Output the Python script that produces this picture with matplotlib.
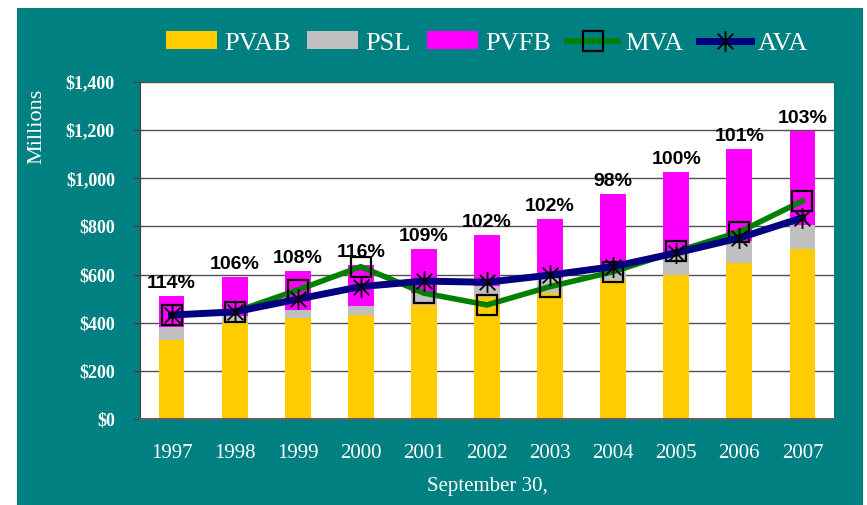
import matplotlib.pyplot as plt
import matplotlib.patches as mpatches
from matplotlib.path import Path
import numpy as np

years = ['1997', '1998', '1999', '2000', '2001', '2002', '2003', '2004', '2005', '2006', '2007']
pvab = [328, 399, 421, 432, 474, 506, 525, 577, 598, 650, 706]
psl = [55, 29, 32, 38, 51, 48, 59, 50, 92, 91, 100]
pvfb = [128, 162, 162, 170, 181, 210, 247, 308, 337, 379, 389]
mva = [432, 445, 536, 633, 523, 474, 550, 612, 696, 777, 906]
ava = [432, 445, 498, 550, 573, 568, 598, 633, 690, 752, 836]
ratios = ['114%', '106%', '108%', '116%', '109%', '102%', '102%', '98%', '100%', '101%', '103%']

teal = '#008080'
serif = 'Liberation Serif'

# Excel-style star marker: vertical bar plus an X
d = 0.75
star = Path([(0, -1), (0, 1), (-d, -d), (d, d), (-d, d), (d, -d)],
            [Path.MOVETO, Path.LINETO] * 3)

fig = plt.figure(figsize=(8.67, 5.05), dpi=100)
fig.patch.set_facecolor('white')
# teal panel behind everything
fig.patches.append(mpatches.Rectangle((17 / 867, 0), 846 / 867, 497 / 505,
                                      transform=fig.transFigure, facecolor=teal,
                                      edgecolor='none', zorder=-10))

ax = fig.add_axes([140 / 867, 86 / 505, 694 / 867, 337 / 505])
ax.set_zorder(5)
ax.set_facecolor('white')

x = np.arange(len(years))
w = 0.41
bottom2 = np.array(pvab)
bottom3 = bottom2 + np.array(psl)
b1 = ax.bar(x, pvab, w, color='#FFCC00', label='PVAB', zorder=2)
b2 = ax.bar(x, psl, w, bottom=bottom2, color='#C0C0C0', label='PSL', zorder=2)
b3 = ax.bar(x, pvfb, w, bottom=bottom3, color='#FF00FF', label='PVFB', zorder=2)

l1, = ax.plot(x, mva, color='#008000', lw=4, marker='s', ms=14, mfc='none',
              mec='black', mew=1.6, label='MVA', zorder=3)
l2, = ax.plot(x, ava, color='#000080', lw=5, marker=star, ms=15,
              mec='black', mew=1.3, label='AVA', zorder=4)

tops = bottom3 + np.array(pvfb)
for xi, t, r in zip(x, tops, ratios):
    ax.annotate(r, (xi, t), xytext=(0, 3), textcoords='offset points',
                ha='center', va='bottom', fontsize=14, fontweight='bold',
                family='Liberation Sans', color='black', zorder=5)

ax.set_xlim(-0.5, len(years) - 0.5)
ax.set_ylim(0, 1400)
ax.set_yticks(range(0, 1401, 200))
ax.set_yticklabels(['$0', '$200', '$400', '$600', '$800', '$1,000', '$1,200', '$1,400'],
                   family=serif, fontsize=13, fontweight='bold', color='white')
ax.set_xticks(x)
ax.set_xticklabels(years, family=serif, fontsize=15, color='white')
ax.tick_params(axis='x', length=0, pad=18)
ax.tick_params(axis='y', length=5, color='#404040', pad=13)
ax.yaxis.grid(True, color='#505050', lw=1, zorder=1)
ax.set_axisbelow(True)
for s in ['top', 'right']:
    ax.spines[s].set_visible(False)
ax.spines['left'].set_color('#404040')
ax.spines['bottom'].set_color('#606060')
ax.spines['bottom'].set_linewidth(1.5)

fig.text(487 / 867, 1 - 487 / 505, 'September 30,', family=serif, fontsize=15,
         color='white', ha='center', va='center')
fig.text(37 / 867, 1 - 126 / 505, 'Millions', family=serif, fontsize=16,
         color='white', ha='center', va='center', rotation=90)

leg = fig.legend([b1, b2, b3, l1, l2], ['PVAB', 'PSL', 'PVFB', 'MVA', 'AVA'],
                 loc='center', bbox_to_anchor=(487 / 867, 1 - 43 / 505), ncol=5,
                 frameon=False, handlelength=1.95, handleheight=0.65,
                 handletextpad=0.27, columnspacing=0.6,
                 prop={'family': serif, 'size': 19})
for t in leg.get_texts():
    t.set_color('white')

fig.savefig('out.png', dpi=100, facecolor=fig.get_facecolor())
